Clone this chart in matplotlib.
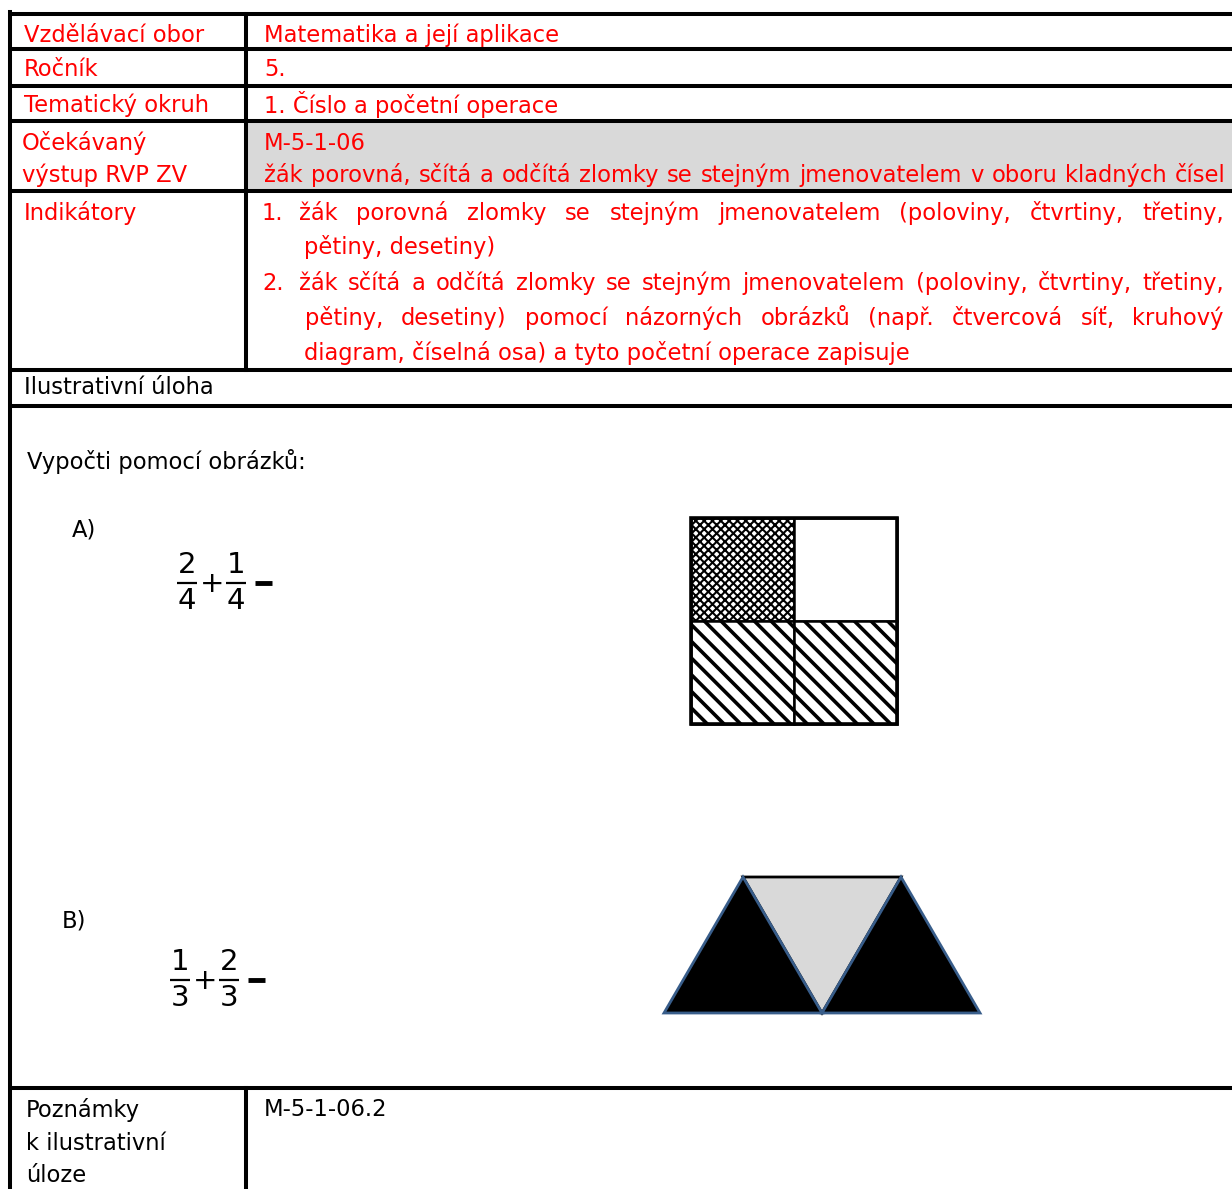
import matplotlib
matplotlib.use("Agg")
import matplotlib.pyplot as plt
from matplotlib.patches import Rectangle, Polygon

# table content
row_labels = ["Vzdělávací obor", "Ročník", "Tematický okruh"]
row_values = ["Matematika a její aplikace", "5.", "1. Číslo a početní operace"]
outcome_label = ["Očekávaný", "výstup RVP ZV"]
outcome_code = "M-5-1-06"
outcome_text = "žák porovná, sčítá a odčítá zlomky se stejným jmenovatelem v oboru kladných čísel"
indicator_label = "Indikátory"
indicators = [
    ("1.", ["žák porovná zlomky se stejným jmenovatelem (poloviny, čtvrtiny, třetiny,",
            "pětiny, desetiny)"]),
    ("2.", ["žák sčítá a odčítá zlomky se stejným jmenovatelem (poloviny, čtvrtiny, třetiny,",
            "pětiny, desetiny) pomocí názorných obrázků (např. čtvercová síť, kruhový",
            "diagram, číselná osa) a tyto početní operace zapisuje"]),
]
task_header = "Ilustrativní úloha"
task_prompt = "Vypočti pomocí obrázků:"
task_labels = ["A)", "B)"]
task_nums = [(2, 1), (1, 2)]
task_dens = [4, 3]
square_fill = ["cross", "none", "diag", "diag"]
triangle_fill = ["#000000", "#d9d9d9", "#000000"]
notes_label = ["Poznámky", "k ilustrativní", "úloze"]
notes_value = "M-5-1-06.2"

W, H = 1232, 1189
RED = "#ff0000"
FS = 16.3

fig = plt.figure(figsize=(W / 100, H / 100), dpi=100)
ax = fig.add_axes([0, 0, 1, 1])
ax.set_xlim(0, W)
ax.set_ylim(H, 0)
ax.axis("off")
renderer = fig.canvas.get_renderer()


def justify(line, x0, x1, y, **kw):
    # words on a common baseline, spread out to fill x0..x1
    words = line.split()
    arts = [ax.text(0, y + 7, w, va="baseline", ha="left", **kw) for w in words]
    widths = [a.get_window_extent(renderer).width for a in arts]
    gap = max((x1 - x0 - sum(widths)) / (len(words) - 1), 3)
    x = x0
    for a, w in zip(arts, widths):
        a.set_x(x)
        x += w + gap


# grey cell behind the expected outcome
ax.add_patch(Rectangle((246, 121), W - 246, 70, color="#d9d9d9", zorder=0))

# table lines
lw = 2.9
hlines = [14, 49, 86, 121, 191, 370, 406, 1088]
for y in hlines:
    ax.plot([8, W], [y, y], color="black", lw=lw, solid_capstyle="butt")
ax.plot([10, 10], [12, H], color="black", lw=lw)
ax.plot([246, 246], [14, 370], color="black", lw=lw)
ax.plot([246, 246], [1088, H], color="black", lw=lw)

# first rows
row_y = [35, 70, 105]
for lab, val, y in zip(row_labels, row_values, row_y):
    ax.text(24, y, lab, color=RED, fontsize=FS, va="center")
    ax.text(264, y, val, color=RED, fontsize=FS, va="center")

ax.text(22, 143, outcome_label[0], color=RED, fontsize=FS, va="center")
ax.text(22, 175, outcome_label[1], color=RED, fontsize=FS, va="center")
ax.text(264, 143, outcome_code, color=RED, fontsize=FS, va="center")
justify(outcome_text, 264, 1226, 175, color=RED, fontsize=FS)

ax.text(24, 213, indicator_label, color=RED, fontsize=FS, va="center")
line_y = iter([213, 247, 283, 318, 353])
for num, lines in indicators:
    for i, line in enumerate(lines):
        y = next(line_y)
        if i == 0:
            ax.text(262, y + 7, num, color=RED, fontsize=FS, va="baseline")
            justify(line, 299, 1224, y, color=RED, fontsize=FS)
        elif i == len(lines) - 1:
            ax.text(304, y, line, color=RED, fontsize=FS, va="center")
        else:
            justify(line, 305, 1224, y, color=RED, fontsize=FS)

ax.text(24, 388, task_header, color="black", fontsize=FS, va="center")
ax.text(27, 461, task_prompt, color="black", fontsize=FS, va="center")

# tasks with fractions, drawn piece by piece
lab_pos = [(72, 530), (62, 921)]
frac_pos = [(177, 583), (170, 980)]
DFS = 21
for lab, nums, d, lp, fp in zip(task_labels, task_nums, task_dens, lab_pos, frac_pos):
    ax.text(lp[0], lp[1], lab, fontsize=FS, va="center")
    x0, yb = fp
    for k, n in enumerate(nums):
        xl = x0 + k * 49
        ax.plot([xl, xl + 20], [yb, yb], color="black", lw=1.6, solid_capstyle="butt")
        ax.text(xl + 10, yb - 4, str(n), fontsize=DFS, ha="center", va="bottom")
        ax.text(xl + 10, yb + 4, str(d), fontsize=DFS, ha="center", va="top")
    ax.text(x0 + 35, yb + 1, "+", fontsize=DFS, ha="center", va="center")
    ax.plot([x0 + 78, x0 + 95], [yb, yb], color="black", lw=3.5, solid_capstyle="butt")

# square split into quarters
sx, sy, side = 691, 518, 206
half = side / 2
for i, style in enumerate(square_fill):
    c, r = i % 2, i // 2
    if style == "cross":
        plt.rcParams["hatch.linewidth"] = 1.5
        hatch = "xxxx"
    elif style == "diag":
        plt.rcParams["hatch.linewidth"] = 2.6
        hatch = "\\\\"
    else:
        hatch = None
    ax.add_patch(Rectangle((sx + c * half, sy + r * half), half, half,
                           facecolor="white", edgecolor="black", lw=1.8, hatch=hatch))
ax.add_patch(Rectangle((sx, sy), side, side, fill=False, edgecolor="black", lw=2.6))

# three triangles forming a trapezoid
tx, ty, step, th = 664, 1013, 79, 136
for i, col in enumerate(triangle_fill):
    if i % 2 == 0:
        pts = [(tx + i * step, ty), (tx + (i + 1) * step, ty - th), (tx + (i + 2) * step, ty)]
        ec = "#385d8a"
    else:
        pts = [(tx + i * step, ty - th), (tx + (i + 2) * step, ty - th), (tx + (i + 1) * step, ty)]
        ec = "black"
    ax.add_patch(Polygon(pts, closed=True, facecolor=col, edgecolor=ec, lw=2.0, zorder=3 - i % 2))

# notes row
for i, t in enumerate(notes_label):
    ax.text(26, 1110 + i * 33, t, fontsize=FS, va="center")
ax.text(264, 1110, notes_value, fontsize=FS, va="center")

fig.savefig("out.png", dpi=100)
